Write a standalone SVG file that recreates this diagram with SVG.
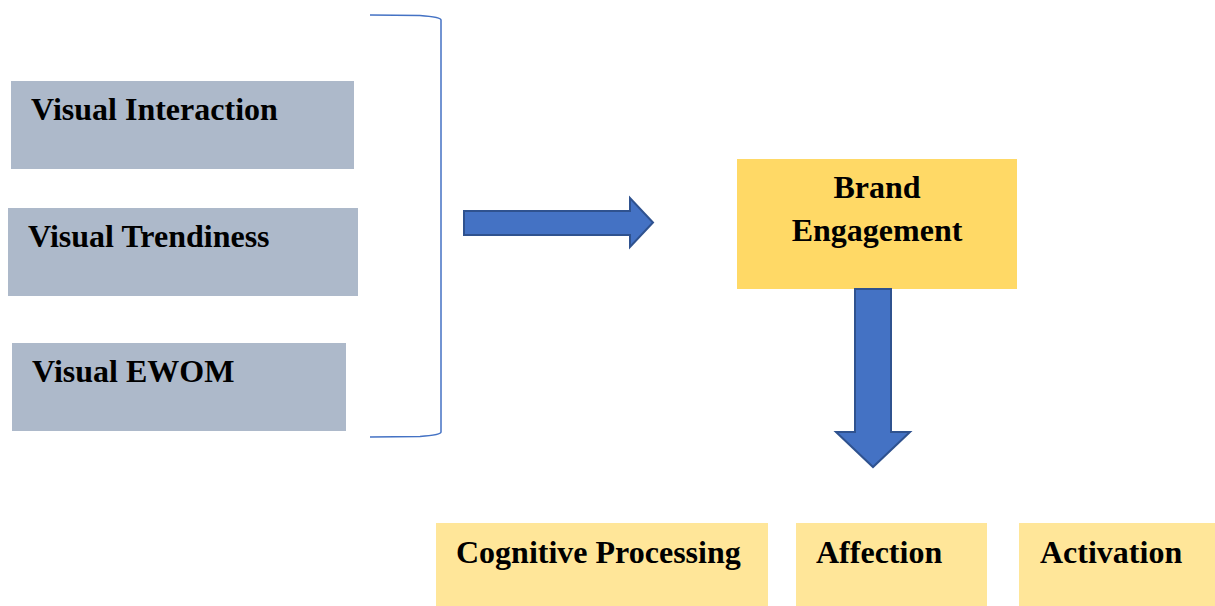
<svg xmlns="http://www.w3.org/2000/svg" width="1215" height="606" viewBox="0 0 1215 606">
<style>
.lbl{font-family:"Liberation Serif","Times New Roman",serif;font-weight:bold;font-size:32px;fill:#000}
.grey{fill:#ADB9CA}
.gold{fill:#FFD966}
.lgold{fill:#FFE699}
.arrow{fill:#4472C4;stroke:#2F528F;stroke-width:2}
</style>
<rect width="1215" height="606" fill="#fff"/>
<g id="visual-interaction"><rect class="grey" x="11" y="81" width="343" height="88"/><text class="lbl" x="31" y="120">Visual Interaction</text></g>
<g id="visual-trendiness"><rect class="grey" x="8" y="208" width="350" height="88"/><text class="lbl" x="28" y="247">Visual Trendiness</text></g>
<g id="visual-ewom"><rect class="grey" x="12" y="343" width="334" height="88"/><text class="lbl" x="32" y="382">Visual EWOM</text></g>
<g id="brand-engagement"><rect class="gold" x="737" y="159" width="280" height="130"/><text class="lbl" x="877" y="198" text-anchor="middle">Brand</text><text class="lbl" x="877" y="241" text-anchor="middle">Engagement</text></g>
<g id="cognitive-processing"><rect class="lgold" x="436" y="523" width="332" height="83"/><text class="lbl" x="456" y="563">Cognitive Processing</text></g>
<g id="affection"><rect class="lgold" x="796" y="523" width="191" height="83"/><text class="lbl" x="816" y="563">Affection</text></g>
<g id="activation"><rect class="lgold" x="1019" y="523" width="196" height="83"/><text class="lbl" x="1040" y="563">Activation</text></g>
<g id="connectors">
<path d="M370 15 L420 15.5 Q441 17 441 20 L441 432 Q441 435 420 436.5 L370 437" fill="none" stroke="#4472C4" stroke-width="1.5"/>
<path class="arrow" d="M464 211 L630 211 L630 198 L653 222.5 L630 247 L630 235 L464 235 Z"/>
<path class="arrow" d="M855 289 L891 289 L891 432 L910 432 L873 467 L836 432 L855 432 Z"/>
</g>
</svg>
